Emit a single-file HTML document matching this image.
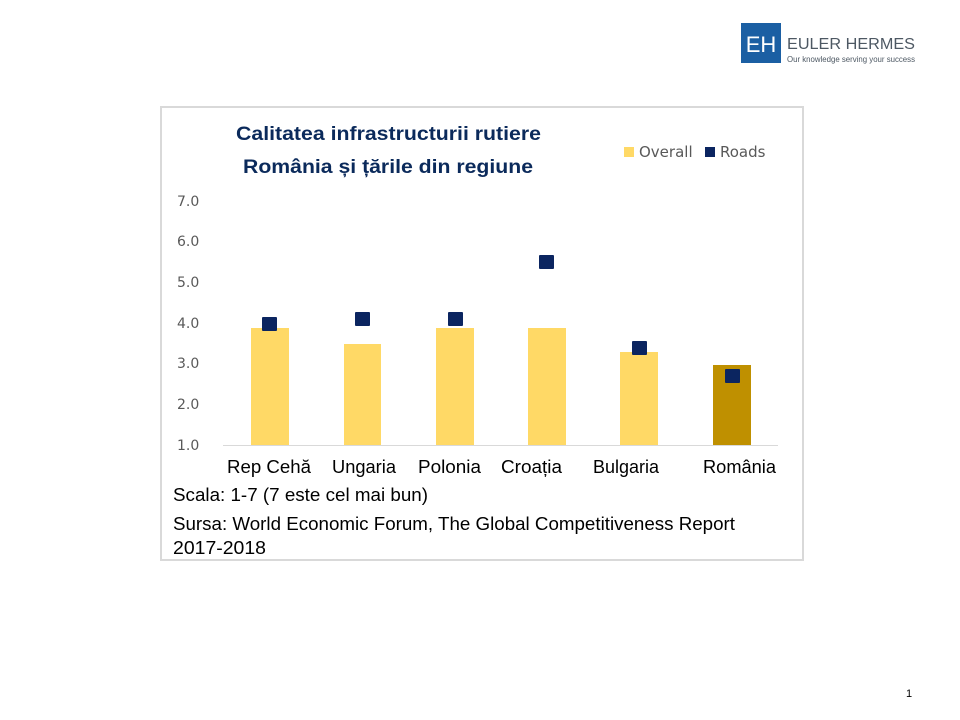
<!DOCTYPE html>
<html><head><meta charset="utf-8"><style>
body{margin:0;background:#fff;}
svg{display:block;font-family:"Liberation Sans",sans-serif;}
</style></head><body>
<svg width="960" height="720" viewBox="0 0 960 720">
<rect x="161" y="107" width="642" height="453" fill="#fff" stroke="#d9d9d9" stroke-width="2"/>
<rect x="741" y="23" width="40" height="40" fill="#1b5fa3"/>
<text x="761" y="52" font-size="22" fill="#fff" text-anchor="middle">EH</text>
<text x="787" y="49" font-size="16" fill="#4d5863" textLength="128" lengthAdjust="spacingAndGlyphs">EULER HERMES</text>
<text x="787" y="62" font-size="8" fill="#4d5863" textLength="128" lengthAdjust="spacingAndGlyphs">Our knowledge serving your success</text>
<g font-weight="bold" fill="#0b2a5b" font-size="19">
<text x="236" y="140" textLength="305" lengthAdjust="spacingAndGlyphs">Calitatea infrastructurii rutiere</text>
<text x="243" y="173" textLength="290" lengthAdjust="spacingAndGlyphs">România și țările din regiune</text>
</g>
<rect x="624" y="147" width="10" height="10" fill="#ffd966"/>
<text x="639" y="157" font-size="15" fill="#595959" font-family="DejaVu Sans, sans-serif">Overall</text>
<rect x="705" y="147" width="10" height="10" fill="#0b2560"/>
<text x="720" y="157" font-size="15" fill="#595959" font-family="DejaVu Sans, sans-serif">Roads</text>
<g font-size="14" fill="#595959" font-family="DejaVu Sans, sans-serif">
<text x="177" y="206">7.0</text><text x="177" y="246">6.0</text><text x="177" y="287">5.0</text>
<text x="177" y="328">4.0</text><text x="177" y="368">3.0</text><text x="177" y="409">2.0</text><text x="177" y="450">1.0</text>
</g>
<g fill="#ffd966">
<rect x="251" y="328" width="38" height="117"/>
<rect x="344" y="344" width="37" height="101"/>
<rect x="436" y="328" width="38" height="117"/>
<rect x="528" y="328" width="38" height="117"/>
<rect x="620" y="352" width="38" height="93"/>
</g>
<rect x="713" y="365" width="38" height="80" fill="#bf9000"/>
<line x1="223" y1="445.5" x2="778" y2="445.5" stroke="#d9d9d9" stroke-width="1"/>
<g fill="#0b2560">
<rect x="262" y="317" width="15" height="14" rx="1"/>
<rect x="355" y="312" width="15" height="14" rx="1"/>
<rect x="448" y="312" width="15" height="14" rx="1"/>
<rect x="539" y="255" width="15" height="14" rx="1"/>
<rect x="632" y="341" width="15" height="14" rx="1"/>
<rect x="725" y="369" width="15" height="14" rx="1"/>
</g>
<g font-size="18" fill="#000">
<text x="227" y="473" textLength="84" lengthAdjust="spacingAndGlyphs">Rep Cehă</text>
<text x="332" y="473" textLength="64" lengthAdjust="spacingAndGlyphs">Ungaria</text>
<text x="418" y="473" textLength="63" lengthAdjust="spacingAndGlyphs">Polonia</text>
<text x="501" y="473" textLength="61" lengthAdjust="spacingAndGlyphs">Croația</text>
<text x="593" y="473" textLength="66" lengthAdjust="spacingAndGlyphs">Bulgaria</text>
<text x="703" y="473" textLength="73" lengthAdjust="spacingAndGlyphs">România</text>
</g>
<g font-size="18" fill="#000">
<text x="173" y="501" textLength="255" lengthAdjust="spacingAndGlyphs">Scala: 1-7 (7 este cel mai bun)</text>
<text x="173" y="530" textLength="562" lengthAdjust="spacingAndGlyphs">Sursa: World Economic Forum, The Global Competitiveness Report</text>
<text x="173" y="554" textLength="93" lengthAdjust="spacingAndGlyphs">2017-2018</text>
</g>
<text x="906" y="697" font-size="11" fill="#000">1</text>
</svg>
</body></html>
